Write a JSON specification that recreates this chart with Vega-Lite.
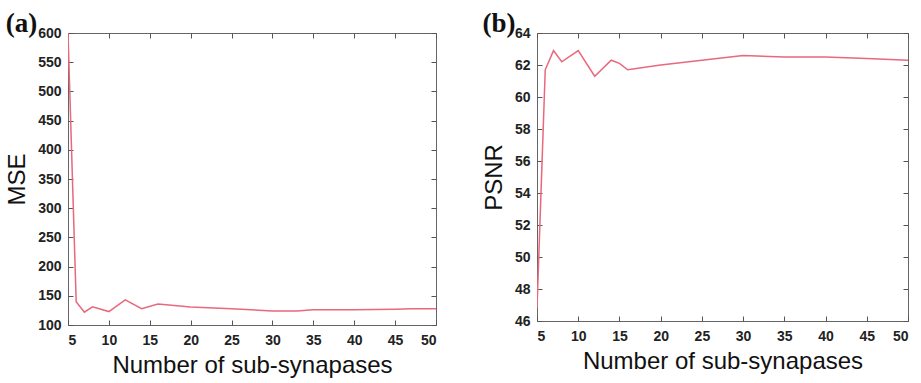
{
  "$schema": "https://vega.github.io/schema/vega-lite/v6.json",
  "background": "white",
  "padding": {"left": 5, "top": 9, "right": 4, "bottom": 2},
  "spacing": 44,
  "config": {
    "view": {"stroke": "#666", "strokeWidth": 1},
    "axis": {
      "labelFont": "Liberation Sans", "labelFontSize": 14, "labelFontWeight": "bold", "labelColor": "#222",
      "titleFont": "Liberation Sans", "titleFontSize": 24, "titleFontWeight": "normal", "titleColor": "#111",
      "grid": false, "domain": false, "tickColor": "#555", "tickSize": -5, "labelPadding": 12
    },
    "axisX": {"labelPadding": 13, "titlePadding": 6},
    "axisY": {"labelPadding": 12, "titlePadding": 8},
    "title": {"font": "Liberation Serif", "fontSize": 27, "fontWeight": "bold", "color": "#111", "anchor": "start", "frame": "bounds", "offset": -12}
  },
  "hconcat": [
    {
      "width": 368, "height": 292,
      "title": {"text": "(a)"},
      "data": {"values": [
        {"n": 5, "v": 600}, {"n": 6, "v": 140}, {"n": 7, "v": 122}, {"n": 8, "v": 131}, {"n": 10, "v": 123},
        {"n": 12, "v": 143}, {"n": 14, "v": 128}, {"n": 16, "v": 136}, {"n": 20, "v": 131}, {"n": 25, "v": 128},
        {"n": 30, "v": 124}, {"n": 33, "v": 124}, {"n": 35, "v": 126}, {"n": 40, "v": 126}, {"n": 45, "v": 127}, {"n": 47, "v": 128}, {"n": 50, "v": 128}
      ]},
      "layer": [
        {
          "mark": {"type": "line", "color": "#e8687c", "strokeWidth": 1.5, "clip": true},
          "encoding": {
            "x": {"field": "n", "type": "quantitative", "scale": {"domain": [5, 50], "nice": false, "zero": false},
                  "axis": {"values": [5, 10, 15, 20, 25, 30, 35, 40, 45, 50], "title": "Number of sub-synapases"}},
            "y": {"field": "v", "type": "quantitative", "scale": {"domain": [100, 600], "nice": false, "zero": false},
                  "axis": {"values": [100, 150, 200, 250, 300, 350, 400, 450, 500, 550, 600], "title": "MSE"}}
          }
        },
        {
          "mark": {"type": "line", "opacity": 0},
          "encoding": {
            "x": {"field": "n", "type": "quantitative", "scale": {"domain": [5, 50], "nice": false, "zero": false},
                  "axis": {"orient": "top", "labels": false, "title": null, "values": [5, 10, 15, 20, 25, 30, 35, 40, 45, 50]}},
            "y": {"field": "v", "type": "quantitative", "scale": {"domain": [100, 600], "nice": false, "zero": false},
                  "axis": {"orient": "right", "labels": false, "title": null, "values": [100, 150, 200, 250, 300, 350, 400, 450, 500, 550, 600]}}
          }
        }
      ],
      "resolve": {"axis": {"x": "independent", "y": "independent"}}
    },
    {
      "width": 371, "height": 288,
      "title": {"text": "(b)"},
      "data": {"values": [
        {"n": 5, "v": 46.8}, {"n": 6, "v": 61.7}, {"n": 7, "v": 62.9}, {"n": 8, "v": 62.2}, {"n": 10, "v": 62.9},
        {"n": 12, "v": 61.3}, {"n": 14, "v": 62.3}, {"n": 15, "v": 62.1}, {"n": 16, "v": 61.7}, {"n": 20, "v": 62.0},
        {"n": 25, "v": 62.3}, {"n": 30, "v": 62.6}, {"n": 35, "v": 62.5}, {"n": 40, "v": 62.5}, {"n": 45, "v": 62.4}, {"n": 50, "v": 62.3}
      ]},
      "layer": [
        {
          "mark": {"type": "line", "color": "#e8687c", "strokeWidth": 1.5, "clip": true},
          "encoding": {
            "x": {"field": "n", "type": "quantitative", "scale": {"domain": [5, 50], "nice": false, "zero": false},
                  "axis": {"values": [5, 10, 15, 20, 25, 30, 35, 40, 45, 50], "title": "Number of sub-synapases"}},
            "y": {"field": "v", "type": "quantitative", "scale": {"domain": [46, 64], "nice": false, "zero": false},
                  "axis": {"values": [46, 48, 50, 52, 54, 56, 58, 60, 62, 64], "title": "PSNR"}}
          }
        },
        {
          "mark": {"type": "line", "opacity": 0},
          "encoding": {
            "x": {"field": "n", "type": "quantitative", "scale": {"domain": [5, 50], "nice": false, "zero": false},
                  "axis": {"orient": "top", "labels": false, "title": null, "values": [5, 10, 15, 20, 25, 30, 35, 40, 45, 50]}},
            "y": {"field": "v", "type": "quantitative", "scale": {"domain": [46, 64], "nice": false, "zero": false},
                  "axis": {"orient": "right", "labels": false, "title": null, "values": [46, 48, 50, 52, 54, 56, 58, 60, 62, 64]}}
          }
        }
      ],
      "resolve": {"axis": {"x": "independent", "y": "independent"}}
    }
  ]
}
